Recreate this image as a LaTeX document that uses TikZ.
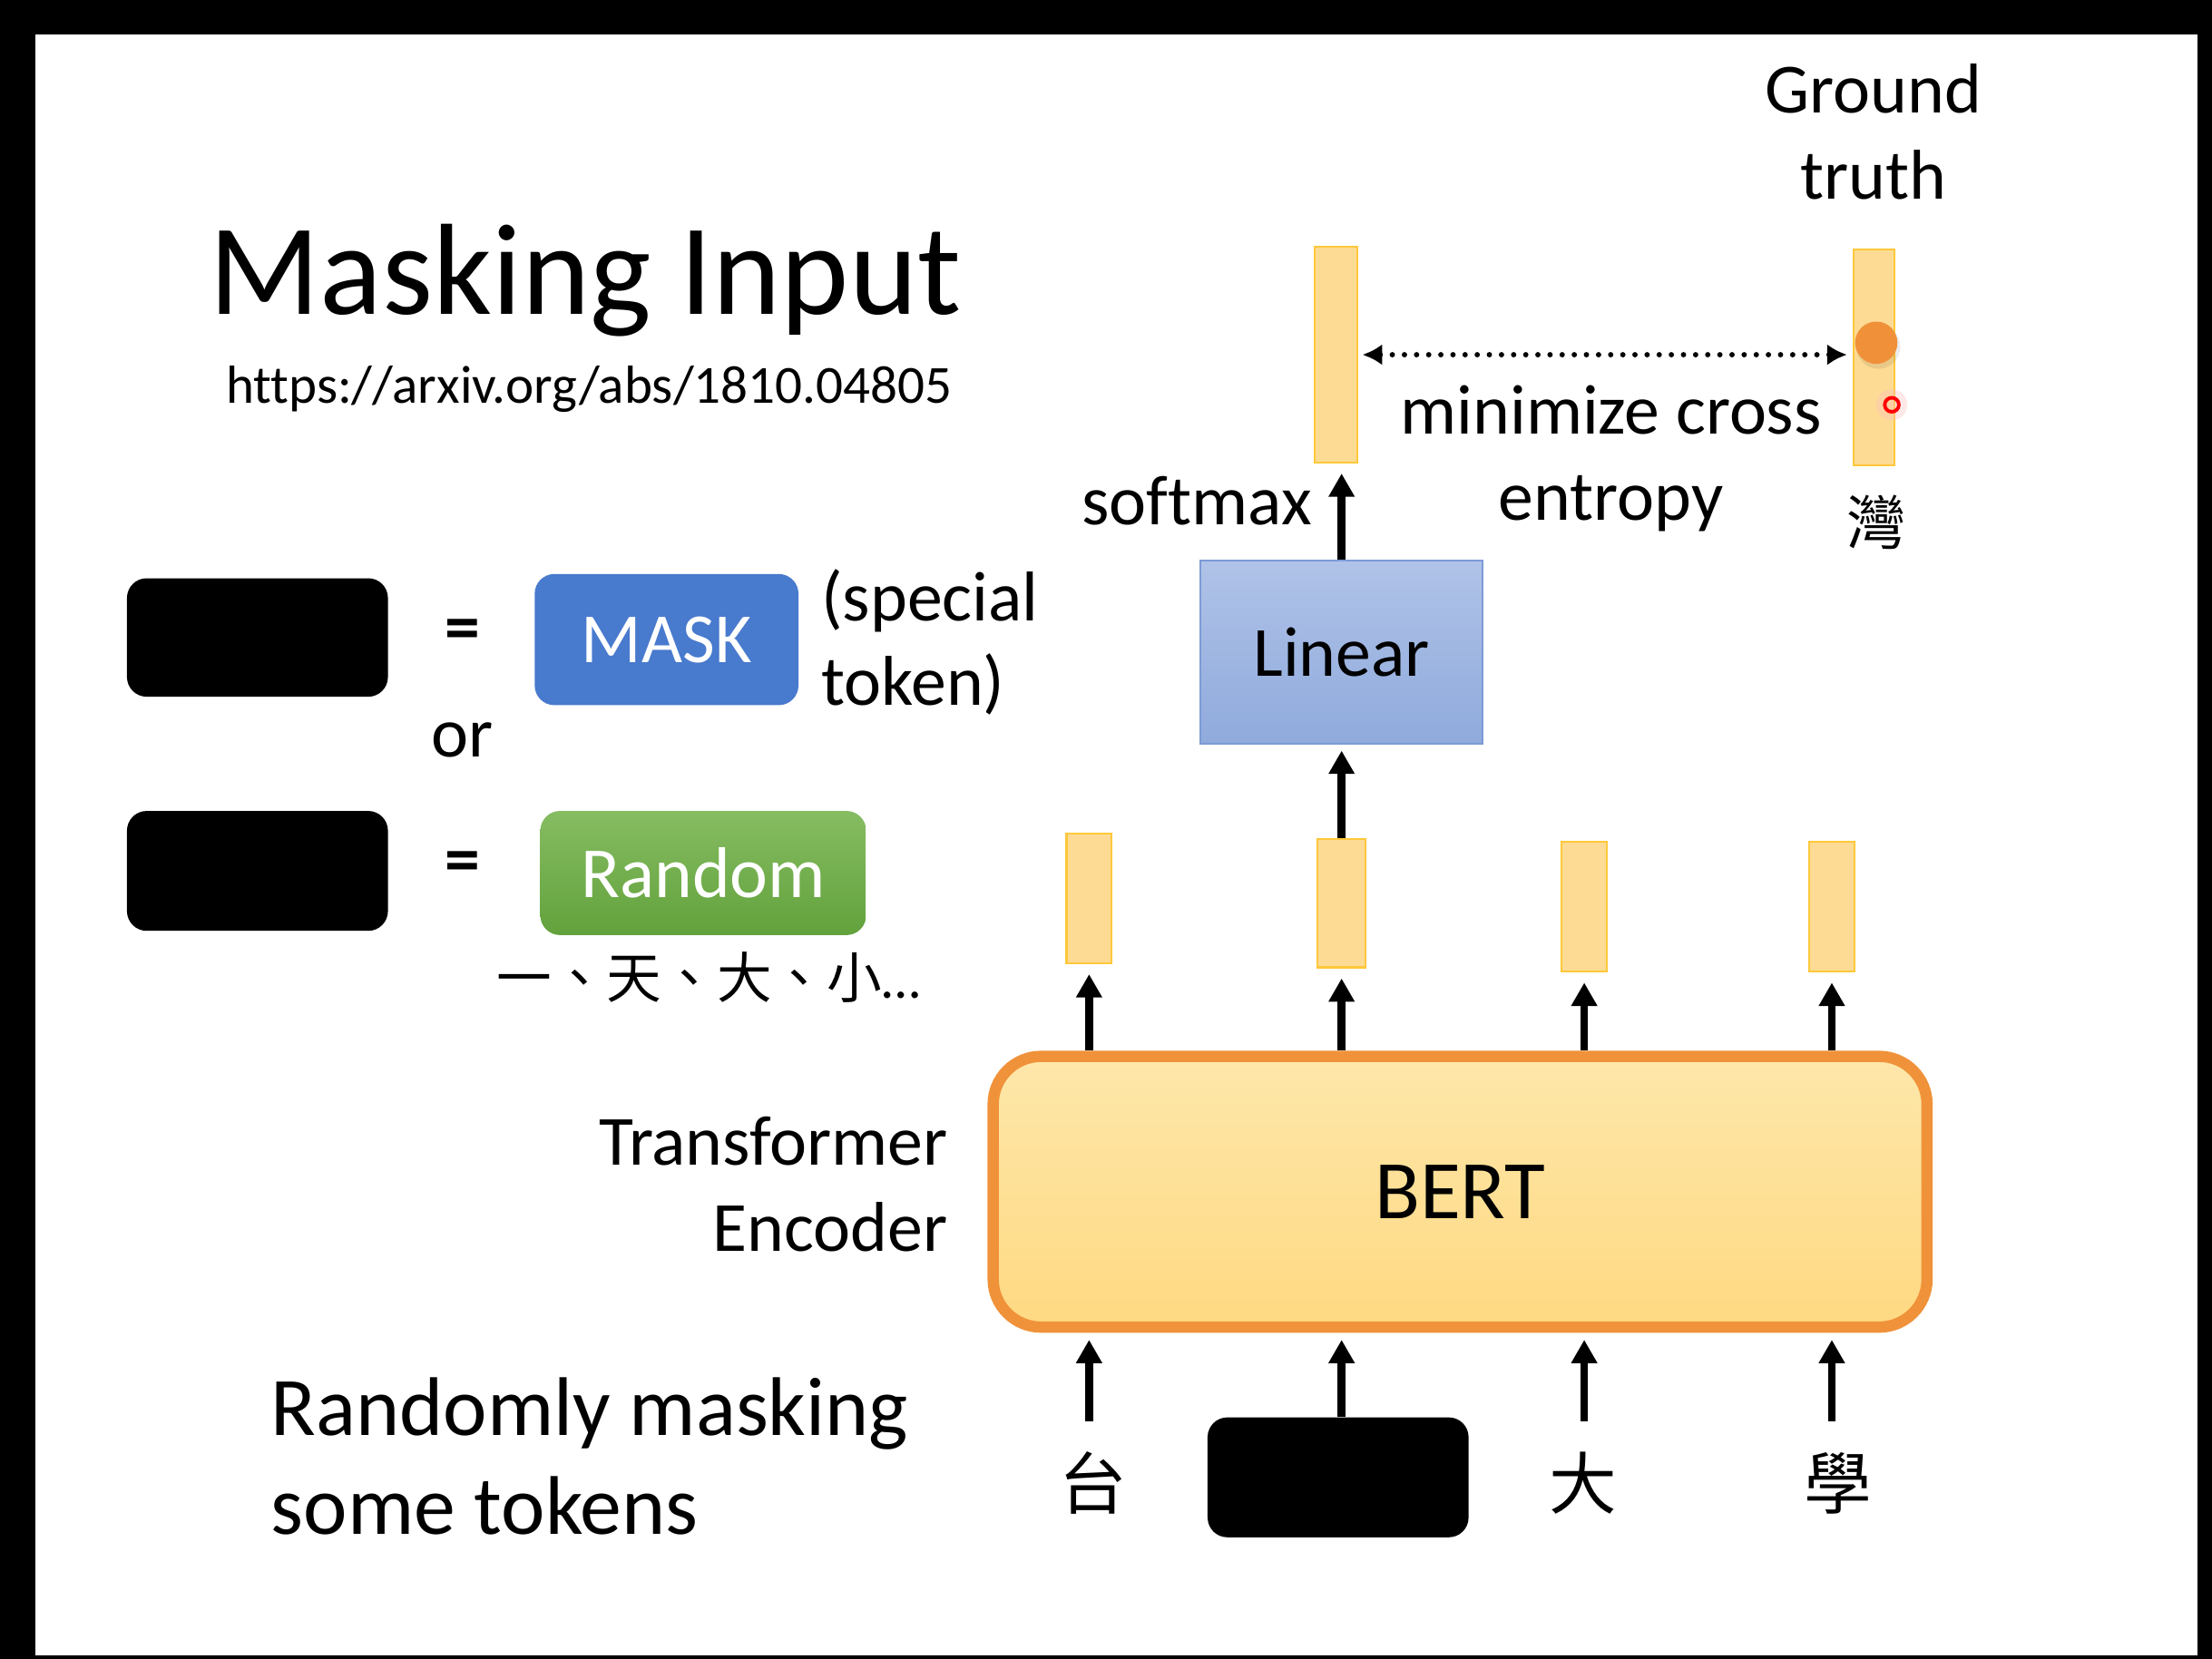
\documentclass[tikz,border=0pt]{standalone}
\usepackage{fontspec}
\setmainfont{Carlito}[Ligatures={NoCommon}]
\newfontfamily\cjk{Noto Sans CJK TC}
\usetikzlibrary{arrows.meta,calc}
\definecolor{barfill}{RGB}{253,219,148}
\definecolor{bardraw}{RGB}{255,200,60}
\definecolor{bertdraw}{RGB}{240,146,58}
\definecolor{berttop}{RGB}{253,231,170}
\definecolor{bertbot}{RGB}{255,217,130}
\definecolor{lintop}{RGB}{176,195,232}
\definecolor{linbot}{RGB}{143,170,220}
\definecolor{lindraw}{RGB}{125,155,214}
\definecolor{maskblue}{RGB}{72,122,206}
\definecolor{grtop}{RGB}{134,188,98}
\definecolor{grbot}{RGB}{98,162,60}
\definecolor{dotorange}{RGB}{240,145,58}
\begin{document}
\begin{tikzpicture}[x=1pt,y=-1pt,
  txt/.style={inner sep=0pt, font=\fontsize{50}{60}\selectfont},
  bigtxt/.style={inner sep=0pt, font=\fontsize{59}{70}\selectfont},
  cjktxt/.style={inner sep=0pt, font=\cjk\fontsize{48}{50}\selectfont, text height=40pt, text depth=6pt},
  bar/.style={draw=bardraw, fill=barfill, line width=1.5pt, inner sep=0pt},
  blackbox/.style={fill=black, rounded corners=14pt, inner sep=0pt, minimum width=185pt, minimum height=85pt},
  arr/.style={line width=5.5pt, -{Triangle[length=16.5pt,width=17.5pt]}},
  dotarr/.style={line width=3.8pt, dash pattern=on 0pt off 8.6pt, line cap=round,
    {Latex[length=14pt,width=15pt]}-{Latex[length=14pt,width=15pt]}}
]
\useasboundingbox (0,0) rectangle (1568,1176);
\fill[black] (0,0) rectangle (1568,1176);
\fill[white] (25,24.5) rectangle (1558,1174);

% title
\node[anchor=base west, inner sep=0pt, font=\fontsize{92}{100}\selectfont] (title) at (148,223) {Masking Input};
\node[anchor=base west, inner sep=0pt, font=\fontsize{38}{46}\selectfont] (url) at (160,286) {https://arxiv.org/abs/1810.04805};

% legend
\node[blackbox, minimum height=84pt] (k1) at (182.5,452) {};
\node[txt, font=\fontsize{50}{60}\selectfont\bfseries] (eq1) at (328,450) {=};
\node[fill=maskblue, rounded corners=14pt, minimum width=187pt, minimum height=93pt, inner sep=0pt,
      text=white, font=\fontsize{50}{60}\selectfont] (mask) at (472.5,453.5) {MASK};
\node[txt, anchor=base west] (sp1) at (582,440) {(special};
\node[txt, anchor=base west] (sp2) at (582,500) {token)};
\node[txt, anchor=base] (or) at (328,537) {or};
\node[blackbox] (k2) at (182.5,617.5) {};
\node[txt, font=\fontsize{50}{60}\selectfont\bfseries] (eq2) at (328,615) {=};
\node[top color=grtop, bottom color=grbot, rounded corners=14pt, minimum width=231pt, minimum height=88pt, inner sep=0pt,
      text=white, font=\fontsize{51}{60}\selectfont] (rnd) at (498.5,619) {Random};
\node[anchor=west, inner sep=0pt, font=\cjk\fontsize{39}{40}\selectfont] (rlist) at (352,693) {一、天、大、小{\rmfamily …}};

% left labels
\node[txt, anchor=base east] (tf1) at (672,826) {Transformer};
\node[txt, anchor=base east] (tf2) at (672,887) {Encoder};
\node[bigtxt, anchor=base west] (rm1) at (192,1018) {Randomly masking};
\node[bigtxt, anchor=base west] (rm2) at (192,1088) {some tokens};

% BERT
\node[draw=bertdraw, line width=8pt, top color=berttop, bottom color=bertbot, rounded corners=34pt,
      minimum width=662pt, minimum height=192pt, inner sep=0pt, font=\fontsize{59}{70}\selectfont] (bert) at (1035,845) {BERT};

% inputs
\node[cjktxt] (t1) at (775,1053) {台};
\node[blackbox] (mk) at (948.5,1047.5) {};
\node[cjktxt] (t3) at (1122,1053) {大};
\node[cjktxt] (t4) at (1303,1053) {學};

% output bars
\node[bar, minimum width=32pt, minimum height=92pt] (b1) at (772,637) {};
\node[bar, minimum width=34pt, minimum height=91pt] (b2) at (951,640.5) {};
\node[bar, minimum width=32pt, minimum height=92pt] (b3) at (1123,643) {};
\node[bar, minimum width=32pt, minimum height=92pt] (b4) at (1298.5,643) {};

% linear
\node[draw=lindraw, line width=1.5pt, top color=lintop, bottom color=linbot, minimum width=200pt, minimum height=130pt,
      inner sep=0pt, font=\fontsize{50}{60}\selectfont] (lin) at (951,462.5) {Linear};

% top bars
\node[bar, minimum width=30pt, minimum height=153pt] (so) at (947,251.5) {};
\node[bar, minimum width=29pt, minimum height=153pt] (gt) at (1328.5,253.5) {};
\fill[black, opacity=.08] (1331.5,246) circle (15.5pt);
\node[circle, fill=dotorange, minimum size=30pt, inner sep=0pt] (dot) at (1330,243) {};
\fill[red!25, opacity=.35] (1341,287) circle (11pt);
\node[circle, draw=red, line width=2.5pt, minimum size=10pt, inner sep=0pt] (cur) at (1341,287) {};

% texts top
\node[txt, anchor=base east] (smx) at (930,372) {softmax};
\node[txt, anchor=base] (mc1) at (1142,308) {minimize cross};
\node[txt, anchor=base] (mc2) at (1142,369) {entropy};
\node[txt, anchor=base] (g1) at (1328,80) {Ground};
\node[txt, anchor=base] (g2) at (1328,141) {truth};
\node[inner sep=0pt, font=\cjk\fontsize{42}{44}\selectfont] (wan) at (1330,370) {灣};

% arrows
\draw[arr, shorten <=22pt, shorten >=5pt] (t1.north -| b1.center) -- (bert.south -| b1.center);
\draw[arr, shorten >=5pt] (mk.north -| b2.center) -- (bert.south -| b2.center);
\draw[arr, shorten <=22pt, shorten >=5pt] (t3.north -| b3.center) -- (bert.south -| b3.center);
\draw[arr, shorten <=22pt, shorten >=5pt] (t4.north -| b4.center) -- (bert.south -| b4.center);
\draw[arr, shorten >=7pt] (bert.north -| b1.center) -- (b1.south);
\draw[arr, shorten >=7pt] (bert.north -| b2.center) -- (b2.south);
\draw[arr, shorten >=7pt] (bert.north -| b3.center) -- (b3.south);
\draw[arr, shorten >=7pt] (bert.north -| b4.center) -- (b4.south);
\draw[arr, shorten >=4pt] (b2.north) -- (lin.south -| b2.north);
\draw[arr, shorten >=7pt] (lin.north) -- (so.south -| lin.north);
\draw[dotarr, shorten <=3pt, shorten >=4pt] (so.east) -- (so.east -| gt.west);
\end{tikzpicture}
\end{document}
